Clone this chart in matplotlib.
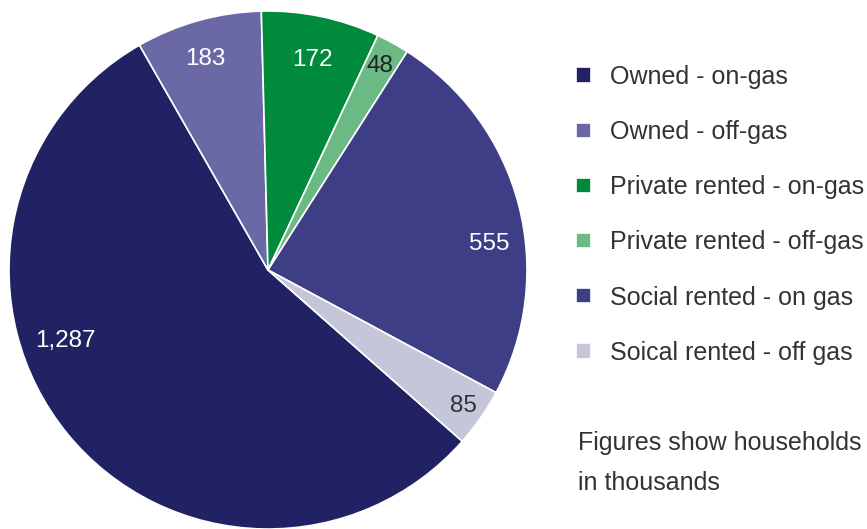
import numpy as np
import matplotlib
matplotlib.use("Agg")
import matplotlib.pyplot as plt

plt.rcParams['font.family'] = ['Liberation Sans', 'DejaVu Sans']

categories = ["Owned - on-gas", "Owned - off-gas", "Private rented - on-gas",
              "Private rented - off-gas", "Social rented - on gas", "Soical rented - off gas"]
households = [1287, 183, 172, 48, 555, 85]
value_labels = ["1,287", "183", "172", "48", "555", "85"]
colors = ["#202263", "#6b69a5", "#008a3c", "#6cba83", "#3e3e86", "#c6c6da"]
label_colors = ["white", "white", "white", "#222222", "white", "#333333"]
# small nudges where the original labels sit off the wedge middle
label_angle_shift = [-20, 1, 0, 0, -8, 0]
label_dist = [0.83, 0.85, 0.83, 0.90, 0.86, 0.92]

W, H = 867, 529
fs = 18
fig = plt.figure(figsize=(W / 100, H / 100), dpi=100)

cx, cy, r = 268, 270, 259
ax = fig.add_axes([(cx - r) / W, (H - cy - r) / H, 2 * r / W, 2 * r / H])
wedges, _ = ax.pie(households, colors=colors, startangle=-41.4, counterclock=False,
                   radius=1, wedgeprops=dict(edgecolor="white", linewidth=1.2))
ax.set_xlim(-1, 1)
ax.set_ylim(-1, 1)
ax.set_aspect("equal")
ax.axis("off")

for w, txt, c, shift, d in zip(wedges, value_labels, label_colors, label_angle_shift, label_dist):
    ang = np.deg2rad((w.theta1 + w.theta2) / 2 + shift)
    ax.text(d * np.cos(ang), d * np.sin(ang), txt, color=c, fontsize=17.5,
            ha="center", va="center")

leg = fig.legend(wedges, categories, loc="upper left", bbox_to_anchor=(576 / W, 1 - 65 / H),
                 frameon=False, fontsize=fs, handlelength=0.58, handleheight=0.58,
                 handletextpad=0.8, labelspacing=1.245, borderpad=0, borderaxespad=0,
                 labelcolor="#333333")

fig.text(578 / W, 1 - 443 / H, "Figures show households", fontsize=fs, color="#333333",
         va="center")
fig.text(578 / W, 1 - 483 / H, "in thousands", fontsize=fs, color="#333333", va="center")

fig.savefig("out.png", dpi=100)
